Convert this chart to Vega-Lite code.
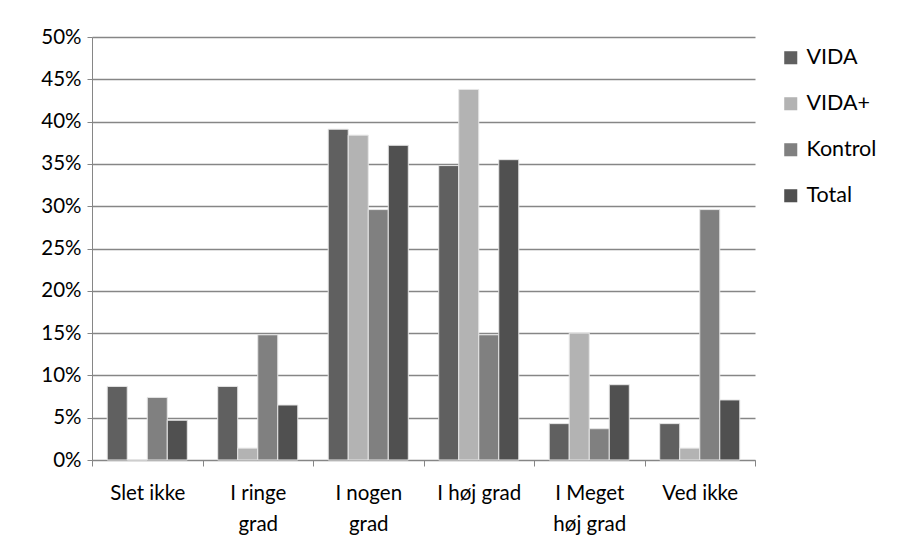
{
  "$schema": "https://vega.github.io/schema/vega-lite/v6.json",
  "width": 663,
  "height": 423,
  "padding": {"left": 92, "top": 37, "right": 150, "bottom": 87},
  "autosize": {"type": "none"},
  "background": "white",
  "data": {
    "values": [
      {"kategori": "Slet ikke", "gruppe": "VIDA", "andel": 0.087},
      {"kategori": "Slet ikke", "gruppe": "VIDA+", "andel": 0},
      {"kategori": "Slet ikke", "gruppe": "Kontrol", "andel": 0.074},
      {"kategori": "Slet ikke", "gruppe": "Total", "andel": 0.047},
      {"kategori": "I ringe grad", "gruppe": "VIDA", "andel": 0.087},
      {"kategori": "I ringe grad", "gruppe": "VIDA+", "andel": 0.014},
      {"kategori": "I ringe grad", "gruppe": "Kontrol", "andel": 0.148},
      {"kategori": "I ringe grad", "gruppe": "Total", "andel": 0.065},
      {"kategori": "I nogen grad", "gruppe": "VIDA", "andel": 0.391},
      {"kategori": "I nogen grad", "gruppe": "VIDA+", "andel": 0.384},
      {"kategori": "I nogen grad", "gruppe": "Kontrol", "andel": 0.296},
      {"kategori": "I nogen grad", "gruppe": "Total", "andel": 0.372},
      {"kategori": "I høj grad", "gruppe": "VIDA", "andel": 0.348},
      {"kategori": "I høj grad", "gruppe": "VIDA+", "andel": 0.438},
      {"kategori": "I høj grad", "gruppe": "Kontrol", "andel": 0.148},
      {"kategori": "I høj grad", "gruppe": "Total", "andel": 0.355},
      {"kategori": "I Meget høj grad", "gruppe": "VIDA", "andel": 0.043},
      {"kategori": "I Meget høj grad", "gruppe": "VIDA+", "andel": 0.15},
      {"kategori": "I Meget høj grad", "gruppe": "Kontrol", "andel": 0.037},
      {"kategori": "I Meget høj grad", "gruppe": "Total", "andel": 0.089},
      {"kategori": "Ved ikke", "gruppe": "VIDA", "andel": 0.043},
      {"kategori": "Ved ikke", "gruppe": "VIDA+", "andel": 0.014},
      {"kategori": "Ved ikke", "gruppe": "Kontrol", "andel": 0.296},
      {"kategori": "Ved ikke", "gruppe": "Total", "andel": 0.071}
    ]
  },
  "mark": {"type": "bar", "stroke": "#e6e6e6", "strokeWidth": 1},
  "encoding": {
    "x": {
      "field": "kategori",
      "type": "nominal",
      "sort": ["Slet ikke", "I ringe grad", "I nogen grad", "I høj grad", "I Meget høj grad", "Ved ikke"],
      "scale": {"paddingInner": 0, "paddingOuter": 0},
      "axis": {
        "title": null,
        "labelAngle": 0,
        "tickBand": "extent",
        "tickSize": 6,
        "tickColor": "#868686",
        "domainColor": "#868686",
        "labelPadding": 17,
        "labelLineHeight": 31,
        "labelBaseline": "top",
        "labelExpr": "datum.value == 'I ringe grad' ? ['I ringe', 'grad'] : datum.value == 'I nogen grad' ? ['I nogen', 'grad'] : datum.value == 'I Meget høj grad' ? ['I Meget', 'høj grad'] : datum.value"
      }
    },
    "xOffset": {
      "field": "gruppe",
      "type": "nominal",
      "sort": ["VIDA", "VIDA+", "Kontrol", "Total"],
      "scale": {"paddingInner": 0, "paddingOuter": 0.76}
    },
    "y": {
      "field": "andel",
      "type": "quantitative",
      "scale": {"domain": [0, 0.5]},
      "axis": {
        "title": null,
        "format": ".0%",
        "values": [0, 0.05, 0.1, 0.15, 0.2, 0.25, 0.3, 0.35, 0.4, 0.45, 0.5],
        "tickSize": 5,
        "tickColor": "#868686",
        "domainColor": "#868686",
        "gridColor": "#868686",
        "gridWidth": 1.3,
        "labelPadding": 6
      }
    },
    "color": {
      "field": "gruppe",
      "type": "nominal",
      "sort": ["VIDA", "VIDA+", "Kontrol", "Total"],
      "scale": {"domain": ["VIDA", "VIDA+", "Kontrol", "Total"], "range": ["#606060", "#b3b3b3", "#808080", "#505050"]},
      "legend": {
        "title": null,
        "orient": "none",
        "legendX": 688,
        "legendY": 10,
        "symbolType": "square",
        "symbolSize": 170,
        "symbolStrokeWidth": 0,
        "rowPadding": 23,
        "labelOffset": 5
      }
    }
  },
  "config": {
    "font": "Lato",
    "view": {"stroke": null},
    "axis": {"labelFont": "Lato", "labelFontSize": 20.5, "labelColor": "#000000", "grid": false},
    "axisY": {"grid": true},
    "legend": {"labelFont": "Lato", "labelFontSize": 21.5, "labelColor": "#000000"}
  }
}
